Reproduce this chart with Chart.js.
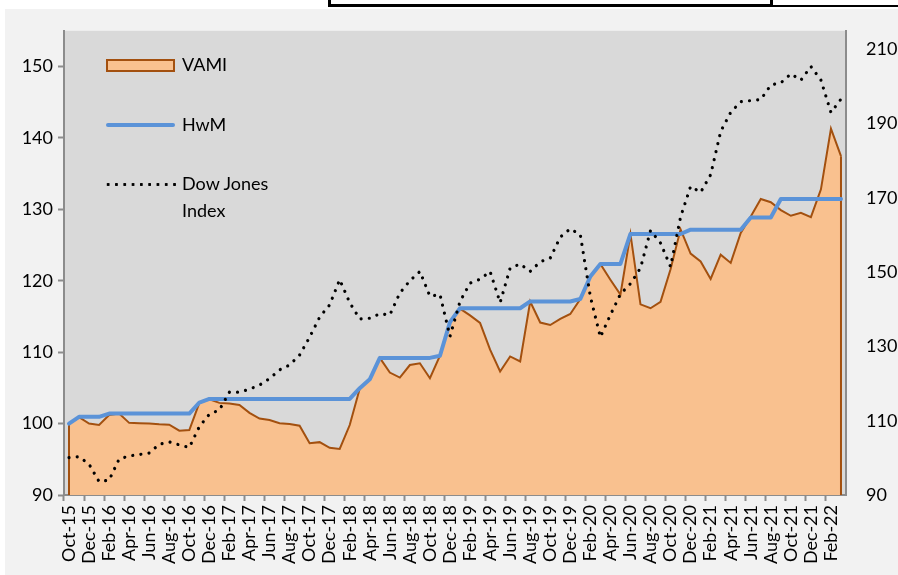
<!DOCTYPE html>
<html><head><meta charset="utf-8">
<script src="https://cdn.jsdelivr.net/npm/chart.js@4.4.1/dist/chart.umd.min.js"></script>
<style>
html,body{margin:0;padding:0;background:#fff;width:898px;height:575px;overflow:hidden;font-family:Lato,sans-serif;}
#bg{position:absolute;left:5px;top:9px;width:893px;height:566px;background:#F2F2F2;}
#box{position:absolute;left:328px;top:-6px;width:439px;height:7px;border:3px solid #000;background:#fff;}
#rline{position:absolute;left:773px;top:5px;width:125px;height:2px;background:#000;}
#c{position:absolute;left:0;top:0;}
.lt{position:absolute;font-family:Lato,sans-serif;font-size:18px;line-height:27px;color:#000;white-space:nowrap;}
#mk1{position:absolute;left:106px;top:59px;width:69px;height:13px;box-sizing:border-box;background:#F9C18F;border:2px solid #A3500F;}
#mk2{position:absolute;left:106px;top:123px;width:69px;height:4px;background:#5B93D8;border-radius:2px;}
#mk3{position:absolute;left:104px;top:182px;width:74px;height:5px;background:radial-gradient(circle,#000 1.3px,rgba(0,0,0,0) 1.8px) repeat-x;background-size:8.3px 5px;}
</style></head>
<body>
<div id="bg"></div>
<div id="box"></div>
<div id="rline"></div>
<canvas id="c" width="898" height="575"></canvas>
<div id="mk1"></div><div class="lt" style="left:182px;top:51px;">VAMI</div>
<div id="mk2"></div><div class="lt" style="left:182px;top:111px;">HwM</div>
<div id="mk3"></div><div class="lt" style="left:182px;top:170px;">Dow Jones<br>Index</div>
<script>
const months = ['Oct-15','Nov-15','Dec-15',
'Jan-16','Feb-16','Mar-16','Apr-16','May-16','Jun-16','Jul-16','Aug-16','Sep-16','Oct-16','Nov-16','Dec-16',
'Jan-17','Feb-17','Mar-17','Apr-17','May-17','Jun-17','Jul-17','Aug-17','Sep-17','Oct-17','Nov-17','Dec-17',
'Jan-18','Feb-18','Mar-18','Apr-18','May-18','Jun-18','Jul-18','Aug-18','Sep-18','Oct-18','Nov-18','Dec-18',
'Jan-19','Feb-19','Mar-19','Apr-19','May-19','Jun-19','Jul-19','Aug-19','Sep-19','Oct-19','Nov-19','Dec-19',
'Jan-20','Feb-20','Mar-20','Apr-20','May-20','Jun-20','Jul-20','Aug-20','Sep-20','Oct-20','Nov-20','Dec-20',
'Jan-21','Feb-21','Mar-21','Apr-21','May-21','Jun-21','Jul-21','Aug-21','Sep-21','Oct-21','Nov-21','Dec-21',
'Jan-22','Feb-22','Mar-22'];

const vami = [100.0,100.9,100.0,99.8,101.2,101.4,100.1,100.05,100.0,99.9,99.85,99.0,99.1,102.9,103.4,
102.9,102.8,102.6,101.5,100.7,100.5,100.05,99.95,99.7,97.25,97.4,96.6,
96.45,99.8,104.9,106.2,109.2,107.15,106.45,108.2,108.45,106.35,109.5,114.2,
116.1,115.15,114.1,110.35,107.3,109.4,108.7,117.1,114.15,113.8,114.65,115.35,
117.45,120.6,122.35,120.15,118.05,126.55,116.7,116.15,117.05,121.6,127.2,123.8,
122.7,120.25,123.65,122.5,126.7,129.0,131.45,131.0,129.9,129.1,129.5,128.9,
132.8,141.3,137.45];

const hwm = [100.0,100.95,100.95,100.95,101.4,101.4,101.4,101.4,101.4,101.4,101.4,101.4,101.4,102.95,103.45,
103.45,103.45,103.45,103.45,103.45,103.45,103.45,103.45,103.45,103.45,103.45,103.45,
103.45,103.45,104.95,106.2,109.2,109.2,109.2,109.2,109.2,109.2,109.5,114.2,
116.15,116.15,116.15,116.15,116.15,116.15,116.15,117.1,117.1,117.1,117.1,117.1,
117.45,120.6,122.35,122.35,122.35,126.55,126.55,126.55,126.55,126.55,126.55,127.15,
127.15,127.15,127.15,127.15,127.15,128.85,128.85,128.85,131.45,131.45,131.45,131.45,
131.45,131.45,131.45];

const dow = [100.05,100.3,98.3,93.6,94.0,99.7,100.5,100.9,101.3,103.65,104.3,103.5,102.8,108.4,111.75,
112.9,117.7,117.7,118.5,119.6,121.35,123.7,125.0,127.7,132.5,137.9,141.2,
148.0,141.8,137.4,137.6,138.8,138.5,144.4,147.7,150.2,143.5,144.0,132.7,
142.1,147.05,148.1,150.2,141.8,151.1,152.2,150.2,152.8,153.8,159.45,161.7,
160.1,143.45,132.5,138.5,144.1,146.9,151.1,161.2,157.85,151.5,164.85,173.1,
171.5,176.25,187.9,193.05,195.9,196.2,196.5,200.4,201.0,203.4,201.7,205.4,
201.7,193.0,196.6];

const leftTickValues = [90,100,110,120,130,140,150];
const rightTickValues = [90,110,130,150,170,190,210];
const leftRange = [90,155];
const rightRange = [90,215];

const FONT = {family:'Lato', size:18};
const AXIS = '#8C8C8C';

const bgPlugin = {
  id:'plotBg',
  beforeDraw(chart){
    const a = chart.chartArea, c = chart.ctx;
    c.save(); c.fillStyle = '#D9D9D9';
    c.fillRect(a.left, a.top, a.right - a.left, a.bottom - a.top);
    c.restore();
  }
};
const edgePlugin = {
  id:'areaEdges',
  afterDatasetDraw(chart, args){
    if (args.index !== 0) return;
    const pts = args.meta.data;
    const ys = chart.scales.y;
    const yb = ys.getPixelForValue(ys.min);
    const c = chart.ctx;
    c.save();
    c.strokeStyle = chart.data.datasets[0].borderColor;
    c.lineWidth = 2;
    [pts[0], pts[pts.length-1]].forEach(p => {
      c.beginPath(); c.moveTo(p.x, p.y); c.lineTo(p.x, yb); c.stroke();
    });
    c.restore();
  }
};

new Chart(document.getElementById('c'), {
  type:'line',
  data:{
    labels: months,
    datasets:[
      {label:'VAMI', data:vami, yAxisID:'y', borderColor:'#A3500F', backgroundColor:'#F9C18F',
       borderWidth:2, fill:'start', pointRadius:0, tension:0, order:2},
      {label:'HwM', data:hwm, yAxisID:'y', borderColor:'#5B93D8', borderWidth:4, fill:false,
       pointRadius:0, tension:0, order:1, borderJoinStyle:'round', borderCapStyle:'round'},
      {label:'Dow Jones Index', data:dow, yAxisID:'y2', borderColor:'#000', borderWidth:3.2,
       borderDash:[0.01, 8.2], borderCapStyle:'round', fill:false, pointRadius:0, tension:0, order:0}
    ]
  },
  options:{
    responsive:false, animation:false, devicePixelRatio:1,
    layout:{padding:{top:30, left:0, right:0, bottom:0}},
    plugins:{legend:{display:false}, tooltip:{enabled:false}},
    scales:{
      x:{
        offset:true,
        grid:{offset:true, drawOnChartArea:false, drawTicks:true, tickLength:6, tickWidth:2,
              tickColor:(ctx)=> (ctx.index % 2 === 0 ? AXIS : 'rgba(0,0,0,0)')},
        border:{color:AXIS, width:2},
        ticks:{autoSkip:false, maxRotation:90, minRotation:90, padding:4, color:'#000', font:FONT,
               callback:(v,i)=> (i % 2 === 0 ? months[i] : '')},
        afterFit:(s)=>{ s.height = 80; }
      },
      y:{
        position:'left', min:leftRange[0], max:leftRange[1],
        afterBuildTicks:(s)=>{ s.ticks = leftTickValues.map(v=>({value:v})); },
        ticks:{padding:5, color:'#000', font:FONT},
        grid:{drawOnChartArea:false, tickLength:6, tickWidth:2, color:AXIS},
        border:{color:AXIS, width:2},
        afterFit:(s)=>{ s.width = 64; }
      },
      y2:{
        position:'right', min:rightRange[0], max:rightRange[1],
        afterBuildTicks:(s)=>{ s.ticks = rightTickValues.map(v=>({value:v})); },
        ticks:{padding:20, color:'#000', font:FONT},
        grid:{drawOnChartArea:false, drawTicks:false},
        border:{color:AXIS, width:2},
        afterFit:(s)=>{ s.width = 52; }
      }
    }
  },
  plugins:[bgPlugin, edgePlugin]
});
</script>
</body></html>
